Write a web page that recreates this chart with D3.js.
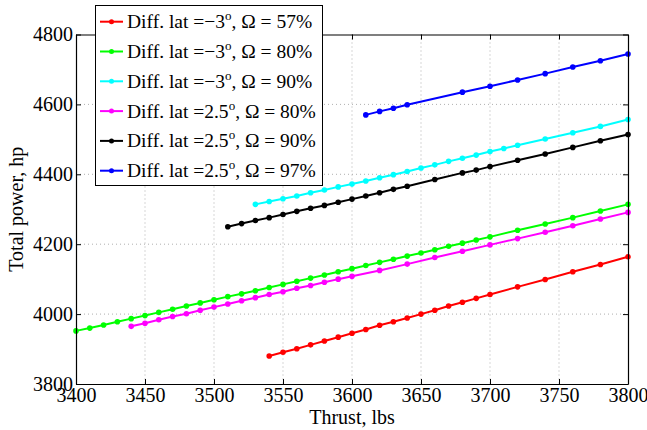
<!DOCTYPE html>
<html>
<head>
<meta charset="utf-8">
<script src="https://cdn.jsdelivr.net/npm/d3@7"></script>
<style>
  body { margin: 0; background: #fff; }
  svg { display: block; }
  svg text { font-family: "Liberation Serif", "Times New Roman", serif !important; fill: #000; }
</style>
</head>
<body>
<svg id="chart" width="647" height="430"></svg>
<script>
// Axis ticks
const xTicks = [3400, 3450, 3500, 3550, 3600, 3650, 3700, 3750, 3800];
const yTicks = [3800, 4000, 4200, 4400, 4600, 4800];

// Diff. lat = -3 deg, Omega = 57%
const thrustA = [3540,3550,3560,3570,3580,3590,3600,3610,3620,3630,3640,3650,3660,3670,3680,3690,3700,3720,3740,3760,3780,3800];
const powerA  = [3880,3891,3901,3912,3923,3934,3945,3956,3968,3978,3989,4000,4011,4023,4034,4045,4056,4078,4099,4121,4142,4164];

// Diff. lat = -3 deg, Omega = 80%
const thrustB = [3400,3410,3420,3430,3440,3450,3460,3470,3480,3490,3500,3510,3520,3530,3540,3550,3560,3570,3580,3590,3600,3610,3620,3630,3640,3650,3660,3670,3680,3690,3700,3720,3740,3760,3780,3800];
const powerB  = [3952,3960,3969,3978,3987,3996,4005,4014,4023,4032,4041,4050,4058,4067,4076,4085,4094,4103,4112,4121,4130,4139,4148,4157,4166,4175,4184,4194,4203,4212,4221,4240,4258,4276,4295,4314];

// Diff. lat = -3 deg, Omega = 90%
const thrustC = [3530,3540,3550,3560,3570,3580,3590,3600,3610,3620,3630,3640,3650,3660,3670,3680,3690,3700,3710,3720,3740,3760,3780,3800];
const powerC  = [4314,4322,4330,4338,4347,4355,4364,4372,4381,4390,4399,4408,4418,4427,4437,4446,4455,4465,4474,4483,4501,4519,4537,4557];

// Diff. lat = 2.5 deg, Omega = 80%
const thrustD = [3440,3450,3460,3470,3480,3490,3500,3510,3520,3530,3540,3550,3560,3570,3580,3590,3600,3620,3640,3660,3680,3700,3720,3740,3760,3780,3800];
const powerD  = [3965,3974,3984,3993,4001,4011,4020,4029,4038,4047,4056,4064,4074,4082,4091,4100,4108,4125,4143,4162,4180,4198,4216,4234,4253,4272,4291];

// Diff. lat = 2.5 deg, Omega = 90%
const thrustE = [3510,3520,3530,3540,3550,3560,3570,3580,3590,3600,3610,3620,3630,3640,3660,3680,3690,3700,3720,3740,3760,3780,3800];
const powerE  = [4250,4259,4268,4276,4285,4294,4303,4311,4320,4329,4338,4347,4357,4366,4385,4404,4412,4422,4440,4458,4477,4496,4514];

// Diff. lat = 2.5 deg, Omega = 97%
const thrustF = [3610,3620,3630,3640,3680,3700,3720,3740,3760,3780,3800];
const powerF  = [4570,4580,4589,4599,4635,4652,4670,4688,4707,4725,4744];

const latLabels   = ["\u22123", "\u22123", "\u22123", "2.5", "2.5", "2.5"];
const omegaLabels = ["57%", "80%", "90%", "80%", "90%", "97%"];
const colors      = ["#ff0000", "#00ff00", "#00ffff", "#ff00ff", "#000000", "#0000ff"];

const series = [
  [thrustA, powerA], [thrustB, powerB], [thrustC, powerC],
  [thrustD, powerD], [thrustE, powerE], [thrustF, powerF]
].map(([xs, ys], i) => ({
  pts: xs.map((x, j) => ({ x, y: ys[j] })),
  color: colors[i], lat: latLabels[i], omega: omegaLabels[i]
}));

const svg = d3.select("#chart");
const plotLeft = 76, plotRight = 628, plotTop = 34.5, plotBottom = 384;

const x = d3.scaleLinear().domain([3400, 3800]).range([plotLeft, plotRight]);
const y = d3.scaleLinear().domain([3800, 4800]).range([plotBottom, plotTop]);
const fmt = d3.format("d");

// dotted grid
const grid = svg.append("g");
grid.selectAll("line.gx").data(xTicks.slice(1, -1)).join("line")
  .attr("x1", d => x(d)).attr("x2", d => x(d))
  .attr("y1", plotTop).attr("y2", plotBottom)
  .attr("stroke", "#9a9a9a").attr("stroke-width", 0.8).attr("stroke-dasharray", "1,3");
grid.selectAll("line.gy").data(yTicks.slice(1, -1)).join("line")
  .attr("y1", d => y(d)).attr("y2", d => y(d))
  .attr("x1", plotLeft).attr("x2", plotRight)
  .attr("stroke", "#9a9a9a").attr("stroke-width", 0.8).attr("stroke-dasharray", "1,3");

// data lines with dot markers
const line = d3.line().x(d => x(d.x)).y(d => y(d.y));
const plot = svg.append("g");
series.forEach(s => {
  plot.append("path").datum(s.pts)
    .attr("d", line).attr("fill", "none")
    .attr("stroke", s.color).attr("stroke-width", 2);
  plot.append("g").selectAll("circle").data(s.pts).join("circle")
    .attr("cx", d => x(d.x)).attr("cy", d => y(d.y)).attr("r", 2.8)
    .attr("fill", s.color);
});

// axes with inward ticks on all four sides
const tickLen = 5;
const axB = svg.append("g").attr("transform", `translate(0,${plotBottom})`)
  .call(d3.axisBottom(x).tickValues(xTicks).tickFormat(fmt).tickSizeInner(-tickLen).tickSizeOuter(0).tickPadding(4));
const axT = svg.append("g").attr("transform", `translate(0,${plotTop})`)
  .call(d3.axisTop(x).tickValues(xTicks).tickSizeInner(-tickLen).tickSizeOuter(0).tickFormat(""));
const axL = svg.append("g").attr("transform", `translate(${plotLeft},0)`)
  .call(d3.axisLeft(y).tickValues(yTicks).tickFormat(fmt).tickSizeInner(-tickLen).tickSizeOuter(0).tickPadding(3));
const axR = svg.append("g").attr("transform", `translate(${plotRight},0)`)
  .call(d3.axisRight(y).tickValues(yTicks).tickSizeInner(-tickLen).tickSizeOuter(0).tickFormat(""));

[axB, axT, axL, axR].forEach(a => {
  a.attr("font-family", null);
  a.select(".domain").attr("stroke", "#000").attr("stroke-width", 1.2);
  a.selectAll(".tick line").attr("stroke", "#000").attr("stroke-width", 1);
  a.selectAll("text").attr("font-size", 20).attr("fill", "#000");
});
axB.selectAll("text").attr("dy", "0.72em");

// axis titles
svg.append("text").attr("x", (plotLeft + plotRight) / 2).attr("y", 424)
  .attr("text-anchor", "middle").attr("font-size", 20).text("Thrust, lbs");
svg.append("text")
  .attr("transform", `translate(23,${(plotTop + plotBottom) / 2}) rotate(-90)`)
  .attr("text-anchor", "middle").attr("font-size", 20).text("Total power, hp");

// legend
const lg = svg.append("g");
lg.append("rect").attr("x", 95.5).attr("y", 5.5).attr("width", 227).attr("height", 180)
  .attr("fill", "#fff").attr("stroke", "#000").attr("stroke-width", 1);
series.forEach((s, i) => {
  const cy = 21.7 + i * 29.8;
  lg.append("line").attr("x1", 100).attr("x2", 123).attr("y1", cy).attr("y2", cy)
    .attr("stroke", s.color).attr("stroke-width", 2);
  lg.append("circle").attr("cx", 111.5).attr("cy", cy).attr("r", 2.5).attr("fill", s.color);
  const t = lg.append("text").attr("x", 127).attr("y", cy + 6.5).attr("font-size", 19.5);
  t.append("tspan").text("Diff. lat =" + s.lat);
  t.append("tspan").attr("font-size", 13).attr("dy", -8).text("o");
  t.append("tspan").attr("dy", 8).text(", \u03A9 = " + s.omega);
});
</script>
</body>
</html>
